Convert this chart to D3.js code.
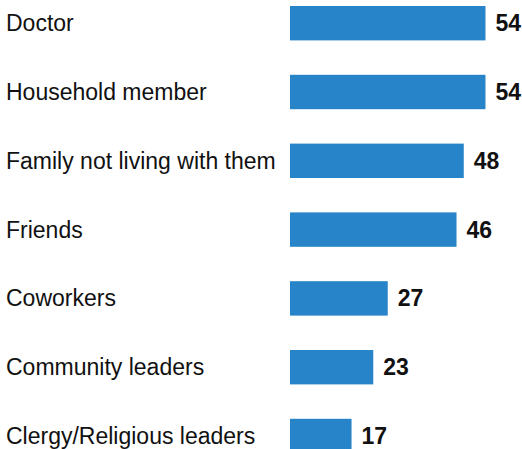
<!DOCTYPE html>
<html>
<head>
<meta charset="utf-8">
<script src="https://cdn.jsdelivr.net/npm/d3@7"></script>
<style>
  body { margin: 0; background: #fff; }
</style>
</head>
<body>
<div id="plot"></div>
<script>
const categories = ["Doctor", "Household member", "Family not living with them", "Friends",
  "Coworkers", "Community leaders", "Clergy/Religious leaders"];
const values = [54, 54, 48, 46, 27, 23, 17];

const w = 522;
const h = 449;
const barLeft = 290;

const svg = d3.select("div#plot")
    .append("svg")
    .attr("width", w)
    .attr("height", h);

const xScale = d3.scaleLinear()
    .domain([0, 60])
    .range([barLeft, barLeft + 217.2]);

const yScale = d3.scaleBand()
    .domain(categories)
    .range([-11.2, 470.4])
    .paddingInner(0.5)
    .paddingOuter(0.25);

svg.selectAll("rect.bar")
    .data(values)
  .enter().append("rect")
    .attr("class", "bar")
    .attr("x", xScale(0))
    .attr("y", (d, i) => yScale(categories[i]))
    .attr("width", d => xScale(d) - xScale(0))
    .attr("height", yScale.bandwidth())
    .attr("fill", "#2884c8");

svg.selectAll("text.cat")
    .data(categories)
  .enter().append("text")
    .attr("class", "cat")
    .attr("x", 6)
    .attr("y", d => yScale(d) + yScale.bandwidth() / 2)
    .attr("dy", "0.35em")
    .attr("font-family", "Liberation Sans, Arial, sans-serif")
    .attr("font-size", 23)
    .attr("fill", "#111")
    .text(d => d);

svg.selectAll("text.val")
    .data(values)
  .enter().append("text")
    .attr("class", "val")
    .attr("x", d => xScale(d) + 10)
    .attr("y", (d, i) => yScale(categories[i]) + yScale.bandwidth() / 2)
    .attr("dy", "0.35em")
    .attr("font-family", "Liberation Sans, Arial, sans-serif")
    .attr("font-size", 23)
    .attr("font-weight", "bold")
    .attr("fill", "#111")
    .text(d => d);
</script>
</body>
</html>
